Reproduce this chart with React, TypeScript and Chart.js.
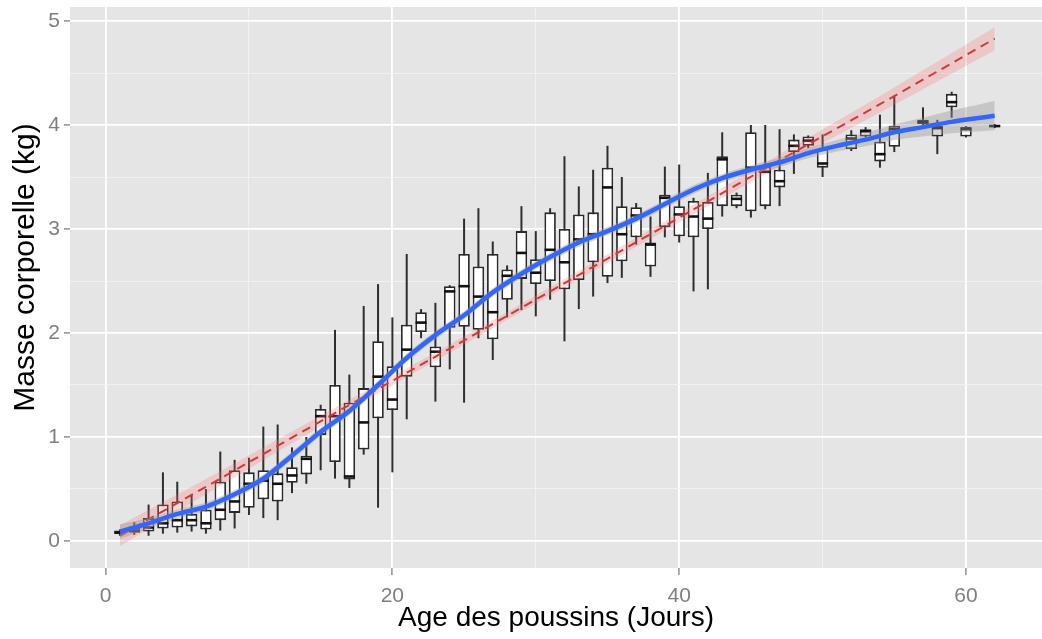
import { useEffect, useRef } from "react";
import { Chart, registerables } from "chart.js";

Chart.register(...registerables);

// ---------- data ----------
const boxDays = [1, 2, 3, 4, 5, 6, 7, 8, 9, 10, 11, 12, 13, 14, 15, 16, 17, 18, 19, 20, 21, 22, 23, 24, 25, 26, 27, 28, 29, 30, 31, 32, 33, 34, 35, 36, 37, 38, 39, 40, 41, 42, 43, 44, 45, 46, 47, 48, 49, 50, 52, 53, 54, 55, 57, 58, 59, 60, 62];
const boxMin = [0.05, 0.06, 0.05, 0.07, 0.08, 0.09, 0.07, 0.1, 0.12, 0.25, 0.22, 0.2, 0.46, 0.55, 0.68, 0.6, 0.51, 0.83, 0.32, 0.66, 1.17, 1.95, 1.34, 1.65, 1.33, 1.95, 1.74, 2.15, 2.22, 2.16, 2.32, 1.92, 2.23, 2.35, 2.48, 2.53, 2.85, 2.54, 2.92, 2.87, 2.4, 2.42, 3.12, 3.2, 3.11, 3.19, 3.22, 3.53, 3.78, 3.5, 3.75, 3.88, 3.59, 3.74, 4.0, 3.72, 4.07, 3.88, 3.97];
const boxQ1 = [0.07, 0.08, 0.09, 0.12, 0.13, 0.14, 0.11, 0.2, 0.27, 0.32, 0.4, 0.38, 0.56, 0.64, 1.02, 0.76, 0.59, 0.88, 1.18, 1.26, 1.58, 2.01, 1.67, 2.05, 2.06, 2.03, 1.94, 2.32, 2.52, 2.47, 2.5, 2.42, 2.51, 2.68, 2.54, 2.69, 2.92, 2.64, 3.02, 2.93, 2.92, 3.0, 3.22, 3.22, 3.17, 3.22, 3.4, 3.74, 3.8, 3.59, 3.77, 3.89, 3.65, 3.79, 4.01, 3.89, 4.17, 3.89, 3.98];
const boxMed = [0.08, 0.1, 0.13, 0.17, 0.2, 0.2, 0.17, 0.3, 0.38, 0.55, 0.58, 0.55, 0.63, 0.79, 1.2, 1.2, 0.62, 1.14, 1.58, 1.36, 1.84, 2.1, 1.82, 2.4, 2.45, 2.35, 2.2, 2.55, 2.77, 2.58, 2.8, 2.68, 2.9, 2.95, 3.4, 2.95, 3.13, 2.85, 3.3, 3.14, 3.12, 3.1, 3.67, 3.29, 3.59, 3.55, 3.46, 3.8, 3.85, 3.63, 3.87, 3.94, 3.72, 3.96, 4.03, 3.97, 4.22, 3.96, 3.99];
const boxQ3 = [0.1, 0.14, 0.22, 0.35, 0.38, 0.26, 0.3, 0.57, 0.68, 0.66, 0.68, 0.65, 0.71, 0.82, 1.27, 1.5, 1.33, 1.47, 1.92, 1.68, 2.08, 2.2, 1.87, 2.45, 2.76, 2.64, 2.76, 2.61, 2.98, 2.71, 3.16, 3.0, 3.14, 3.16, 3.59, 3.22, 3.21, 2.87, 3.33, 3.22, 3.27, 3.26, 3.7, 3.33, 3.93, 3.6, 3.57, 3.86, 3.89, 3.77, 3.91, 3.96, 3.84, 3.99, 4.05, 3.99, 4.3, 3.98, 4.0];
const boxMax = [0.11, 0.18, 0.35, 0.66, 0.57, 0.45, 0.5, 0.86, 0.78, 0.8, 1.1, 1.12, 0.9, 1.0, 1.31, 2.03, 1.6, 2.26, 2.47, 2.15, 2.76, 2.23, 2.29, 2.46, 3.1, 3.2, 2.88, 2.65, 3.22, 2.98, 3.2, 3.7, 3.41, 3.57, 3.8, 3.5, 3.25, 3.12, 3.6, 3.62, 3.3, 3.54, 3.93, 3.35, 4.0, 4.0, 3.96, 3.91, 3.9, 3.91, 3.95, 3.98, 4.1, 4.28, 4.17, 4.05, 4.32, 3.99, 4.01];

const smoothDays = [1, 3, 5, 7, 9, 11, 13, 15, 17, 19, 21, 23, 25, 27, 29, 31, 33, 35, 37, 39, 41, 43, 45, 47, 49, 51, 53, 55, 57, 59, 61, 62];
const smoothMass = [0.09, 0.17, 0.26, 0.33, 0.45, 0.6, 0.82, 1.05, 1.25, 1.5, 1.76, 1.98, 2.17, 2.39, 2.57, 2.73, 2.87, 2.98, 3.1, 3.24, 3.38, 3.49, 3.57, 3.64, 3.73, 3.8, 3.86, 3.93, 3.98, 4.03, 4.07, 4.09];
const smoothLow = [0.02, 0.12, 0.215, 0.29, 0.41, 0.56, 0.78, 1.01, 1.21, 1.46, 1.72, 1.94, 2.13, 2.35, 2.53, 2.69, 2.83, 2.94, 3.06, 3.2, 3.34, 3.45, 3.53, 3.595, 3.68, 3.745, 3.795, 3.855, 3.89, 3.92, 3.94, 3.95];
const smoothHigh = [0.16, 0.22, 0.305, 0.37, 0.49, 0.64, 0.86, 1.09, 1.29, 1.54, 1.8, 2.02, 2.21, 2.43, 2.61, 2.77, 2.91, 3.02, 3.14, 3.28, 3.42, 3.53, 3.61, 3.685, 3.78, 3.855, 3.925, 4.005, 4.07, 4.14, 4.2, 4.23];

const lmDays = [1, 8, 16, 24, 31, 39, 47, 54, 62];
const lmMass = [0.05, 0.6, 1.23, 1.85, 2.4, 3.03, 3.66, 4.2, 4.83];
const lmLow = [-0.05, 0.53, 1.18, 1.81, 2.36, 2.985, 3.6, 4.12, 4.72];
const lmHigh = [0.15, 0.67, 1.28, 1.89, 2.44, 3.075, 3.72, 4.28, 4.94];

const xTicks = [0, 10, 20, 30, 40, 50, 60];
const xLabelTicks = [0, 20, 40, 60];
const yTicks = [0, 0.5, 1, 1.5, 2, 2.5, 3, 3.5, 4, 4.5, 5];
const yLabelTicks = [0, 1, 2, 3, 4, 5];

const xTitleText = "Age des poussins (Jours)";
const yTitleText = "Masse corporelle (kg)";

const toXY = (xs: number[], ys: number[]) => xs.map((x, i) => ({ x, y: ys[i] }));

const FONT = "'Liberation Sans', Arial, Helvetica, sans-serif";

export default function App() {
  const ref = useRef<HTMLCanvasElement>(null);

  useEffect(() => {
    document.body.style.margin = "0";
    const canvas = ref.current!;

    const panelBg = {
      id: "panelBg",
      beforeDraw(chart: any) {
        const { ctx, chartArea: a } = chart;
        ctx.save();
        ctx.fillStyle = "#E5E5E5";
        ctx.fillRect(a.left, a.top, a.right - a.left, a.bottom - a.top);
        ctx.restore();
      },
    };

    const yTitle = {
      id: "yTitle",
      afterDraw(chart: any) {
        const { ctx, chartArea: a } = chart;
        ctx.save();
        ctx.translate(26, (a.top + a.bottom) / 2 - 20);
        ctx.rotate(-Math.PI / 2);
        ctx.font = `30px ${FONT}`;
        ctx.fillStyle = "#000000";
        ctx.textAlign = "center";
        ctx.textBaseline = "middle";
        ctx.fillText(yTitleText, 0, 0);
        ctx.restore();
      },
    };

    const isMajorX = (v: number) => xLabelTicks.includes(v);
    const isMajorY = (v: number) => yLabelTicks.includes(v);

    const chart = new Chart(canvas, {
      type: "line",
      data: {
        datasets: [
          {
            type: "line",
            data: toXY(smoothDays, smoothMass),
            borderColor: "#3366FF",
            borderWidth: 4.5,
            cubicInterpolationMode: "monotone",
            pointRadius: 0,
            fill: false,
            order: 0,
          },
          {
            type: "line",
            data: toXY(smoothDays, smoothLow),
            borderColor: "rgba(0,0,0,0)",
            borderWidth: 0,
            cubicInterpolationMode: "monotone",
            pointRadius: 0,
            fill: false,
            order: 1,
          },
          {
            type: "line",
            data: toXY(smoothDays, smoothHigh),
            borderColor: "rgba(0,0,0,0)",
            borderWidth: 0,
            cubicInterpolationMode: "monotone",
            pointRadius: 0,
            fill: 1,
            backgroundColor: "rgba(153,153,153,0.4)",
            order: 1,
          },
          {
            type: "line",
            data: toXY(lmDays, lmMass),
            borderColor: "#CC3A3A",
            borderWidth: 2,
            borderDash: [9, 6],
            pointRadius: 0,
            fill: false,
            order: 2,
          },
          {
            type: "line",
            data: toXY(lmDays, lmLow),
            borderColor: "rgba(0,0,0,0)",
            borderWidth: 0,
            cubicInterpolationMode: "monotone",
            pointRadius: 0,
            fill: false,
            order: 3,
          },
          {
            type: "line",
            data: toXY(lmDays, lmHigh),
            borderColor: "rgba(0,0,0,0)",
            borderWidth: 0,
            cubicInterpolationMode: "monotone",
            pointRadius: 0,
            fill: 4,
            backgroundColor: "rgba(255,110,110,0.25)",
            order: 3,
          },
          {
            type: "line",
            data: toXY(boxDays, boxMed),
            showLine: false,
            pointStyle: "line",
            pointRadius: 5.5,
            pointBorderWidth: 2.6,
            pointBorderColor: "#111111",
            pointBackgroundColor: "#111111",
            order: 4,
          },
          {
            type: "bar",
            data: boxDays.map((d, i) => ({ x: d, y: [boxQ1[i], boxQ3[i]] })),
            backgroundColor: "#FFFFFF",
            borderColor: "#2A2A2A",
            borderWidth: 1.8,
            borderSkipped: false,
            grouped: false,
            categoryPercentage: 1,
            barPercentage: 0.8,
            order: 5,
          },
          {
            type: "bar",
            data: boxDays.map((d, i) => ({ x: d, y: [boxMin[i], boxMax[i]] })),
            backgroundColor: "#2E2E2E",
            borderWidth: 0,
            grouped: false,
            maxBarThickness: 2,
            order: 6,
          },
        ] as any,
      },
      options: {
        animation: false,
        responsive: false,
        events: [],
        layout: { autoPadding: false, padding: { top: 7, right: 0, left: 0, bottom: 0 } },
        plugins: {
          legend: { display: false },
          tooltip: { enabled: false },
          filler: { drawTime: "beforeDatasetDraw", propagate: false },
        } as any,
        scales: {
          x: {
            type: "linear",
            min: -2.48,
            max: 65.3,
            offset: false,
            afterBuildTicks: (s: any) => {
              s.ticks = xTicks.map((v) => ({ value: v }));
            },
            afterFit: (s: any) => {
              s.height = 71;
              s.paddingLeft = 0;
              s.paddingRight = 0;
            },
            grid: {
              offset: false,
              drawOnChartArea: true,
              drawTicks: true,
              color: (c: any) => (c.tick && isMajorX(c.tick.value) ? "#FFFFFF" : "#F2F2F2"),
              lineWidth: (c: any) => (c.tick && isMajorX(c.tick.value) ? 1.8 : 0.9),
              tickColor: (c: any) => (c.tick && isMajorX(c.tick.value) ? "#7F7F7F" : "rgba(0,0,0,0)"),
              tickLength: 7,
              tickWidth: 1.3,
            },
            border: { display: false },
            ticks: {
              autoSkip: false,
              maxRotation: 0,
              padding: 9,
              color: "#7F7F7F",
              font: { family: FONT, size: 21 },
              callback: (v: any) => (isMajorX(Number(v)) ? String(v) : ""),
            },
            title: {
              display: true,
              text: xTitleText,
              color: "#000000",
              font: { family: FONT, size: 28 },
              padding: { top: 0, bottom: 4 },
            },
          } as any,
          y: {
            type: "linear",
            min: -0.26,
            max: 5.135,
            afterBuildTicks: (s: any) => {
              s.ticks = yTicks.map((v) => ({ value: v }));
            },
            afterFit: (s: any) => {
              s.width = 70;
              s.paddingTop = 0;
              s.paddingBottom = 0;
            },
            grid: {
              drawOnChartArea: true,
              drawTicks: true,
              color: (c: any) => (c.tick && isMajorY(c.tick.value) ? "#FFFFFF" : "#F2F2F2"),
              lineWidth: (c: any) => (c.tick && isMajorY(c.tick.value) ? 1.8 : 0.9),
              tickColor: (c: any) => (c.tick && isMajorY(c.tick.value) ? "#7F7F7F" : "rgba(0,0,0,0)"),
              tickLength: 6,
              tickWidth: 1.3,
            },
            border: { display: false },
            ticks: {
              autoSkip: false,
              padding: 4,
              color: "#7F7F7F",
              font: { family: FONT, size: 21 },
              callback: (v: any) => (isMajorY(Number(v)) ? String(v) : ""),
            },
            title: { display: false },
          } as any,
        },
      },
      plugins: [panelBg, yTitle],
    });

    return () => chart.destroy();
  }, []);

  return (
    <canvas
      ref={ref}
      width={1042}
      height={639}
      style={{ display: "block", width: "1042px", height: "639px" }}
    />
  );
}
